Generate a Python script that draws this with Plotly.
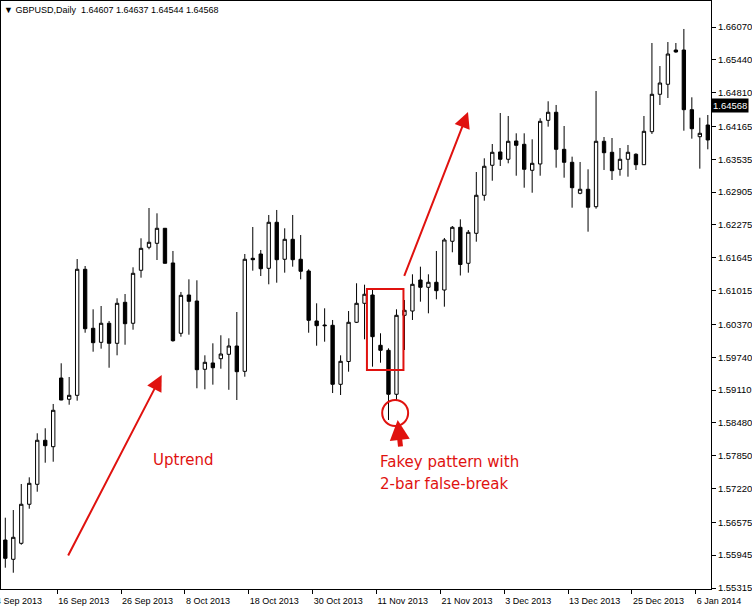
import numpy as np
import plotly.graph_objects as go

# ---------------- data ----------------
first_bar = "2013-09-05"   # daily bars, weekdays only

opens = [1.56235, 1.55865, 1.56172, 1.56920, 1.57303, 1.58147, 1.58024, 1.59341, 1.58933, 1.59009,
         1.61425, 1.60294, 1.60025, 1.60390, 1.60006, 1.60792, 1.60390, 1.61406, 1.61847, 1.61923,
         1.62211, 1.61546, 1.60198, 1.60932, 1.60817, 1.59508, 1.59629, 1.59711, 1.59795, 1.59954,
         1.59469, 1.61636, 1.61718, 1.61444, 1.62326, 1.61617, 1.62000, 1.61617, 1.61392, 1.60434,
         1.60357, 1.60351, 1.59220, 1.59657, 1.60409, 1.60773, 1.60932, 1.59968, 1.59872, 1.59029,
         1.60543, 1.60625, 1.61220, 1.61080, 1.61176, 1.61028, 1.61962, 1.62230, 1.61540, 1.62115,
         1.62844, 1.63419, 1.63674, 1.63534, 1.63885, 1.63821, 1.63323, 1.63444, 1.64281, 1.64435,
         1.63725, 1.63476, 1.62882, 1.62959, 1.62625, 1.63879, 1.63668, 1.63342, 1.63534, 1.63630,
         1.63430, 1.64063, 1.64780, 1.64972, 1.65629, 1.65629, 1.64485, 1.63967, 1.64191]
highs = [1.56663, 1.56810, 1.57309, 1.57437, 1.58281, 1.58377, 1.58843, 1.59623, 1.59360, 1.61622,
         1.61488, 1.60658, 1.60721, 1.60434, 1.60869, 1.60951, 1.61463, 1.62019, 1.62600, 1.62498,
         1.62215, 1.61776, 1.60990, 1.61233, 1.61214, 1.59776, 1.60006, 1.60160, 1.60102, 1.60606,
         1.61718, 1.62236, 1.61795, 1.62466, 1.62562, 1.62211, 1.62466, 1.62082, 1.61425, 1.60773,
         1.60677, 1.60453, 1.59776, 1.60625, 1.61157, 1.61130, 1.61028, 1.60198, 1.59910, 1.60658,
         1.60836, 1.61329, 1.61475, 1.61329, 1.61776, 1.62025, 1.62255, 1.62383, 1.62178, 1.63290,
         1.63553, 1.63827, 1.64421, 1.64364, 1.64032, 1.64032, 1.63917, 1.64320, 1.64646, 1.64575,
         1.64172, 1.63584, 1.63482, 1.63342, 1.64843, 1.63961, 1.63942, 1.63750, 1.63808, 1.63649,
         1.64364, 1.65763, 1.65322, 1.65782, 1.65763, 1.66032, 1.64722, 1.64331, 1.64383]
lows = [1.55704, 1.55608, 1.56145, 1.56835, 1.57161, 1.57717, 1.57736, 1.58915, 1.58829, 1.58906,
        1.60209, 1.59845, 1.59903, 1.59538, 1.59776, 1.59979, 1.60267, 1.61264, 1.61808, 1.61603,
        1.61536, 1.60037, 1.60133, 1.60171, 1.59144, 1.59124, 1.59213, 1.59519, 1.59115, 1.58919,
        1.59366, 1.61398, 1.61296, 1.61137, 1.61168, 1.61360, 1.61475, 1.61233, 1.60209, 1.59960,
        1.60037, 1.59053, 1.59015, 1.59462, 1.60395, 1.60083, 1.59558, 1.59634, 1.58536, 1.58919,
        1.59878, 1.60453, 1.60804, 1.60581, 1.60850, 1.60708, 1.61751, 1.61306, 1.61360, 1.61954,
        1.62740, 1.63123, 1.63405, 1.63457, 1.63219, 1.62989, 1.62893, 1.63219, 1.64159, 1.63373,
        1.63181, 1.62606, 1.62863, 1.62146, 1.62587, 1.63329, 1.63137, 1.63219, 1.63200, 1.63329,
        1.63425, 1.64019, 1.64575, 1.64709, 1.65577, 1.64082, 1.63929, 1.63354, 1.63725]
closes = [1.55884, 1.56287, 1.56920, 1.57322, 1.58147, 1.58043, 1.58722, 1.58919, 1.59009, 1.61425,
          1.60286, 1.60018, 1.60390, 1.60006, 1.60773, 1.60382, 1.61348, 1.61827, 1.61943, 1.62211,
          1.61540, 1.60056, 1.60926, 1.60811, 1.59500, 1.59642, 1.59538, 1.59801, 1.59954, 1.59462,
          1.61617, 1.61609, 1.61436, 1.62326, 1.61609, 1.62000, 1.61609, 1.61387, 1.60447, 1.60344,
          1.60344, 1.59220, 1.59661, 1.60409, 1.60773, 1.60946, 1.60133, 1.59872, 1.59029, 1.60543,
          1.60639, 1.61137, 1.61080, 1.61176, 1.61015, 1.61987, 1.62230, 1.61517, 1.62134, 1.62844,
          1.63400, 1.63668, 1.63534, 1.63879, 1.63802, 1.63342, 1.63457, 1.64262, 1.64435, 1.63725,
          1.63476, 1.62989, 1.62959, 1.62614, 1.63879, 1.63660, 1.63315, 1.63534, 1.63668, 1.63430,
          1.64070, 1.64780, 1.64996, 1.65552, 1.65591, 1.64485, 1.64120, 1.64032, 1.63904]

date_label_days = ["2013-09-04", "2013-09-16", "2013-09-26", "2013-10-08", "2013-10-18", "2013-10-30",
                   "2013-11-11", "2013-11-21", "2013-12-03", "2013-12-13", "2013-12-25", "2014-01-06"]
date_label_text = ["4 Sep 2013", "16 Sep 2013", "26 Sep 2013", "8 Oct 2013", "18 Oct 2013", "30 Oct 2013",
                   "11 Nov 2013", "21 Nov 2013", "3 Dec 2013", "13 Dec 2013", "25 Dec 2013", "6 Jan 2014"]

price_ticks = [1.66070, 1.65440, 1.64810, 1.64165, 1.63535, 1.62905, 1.62275, 1.61645, 1.61015,
               1.60370, 1.59740, 1.59110, 1.58480, 1.57850, 1.57220, 1.56575, 1.55945, 1.55315]
last_price = 1.64568
header = "GBPUSD,Daily\u00a0\u00a01.64607 1.64637 1.64544 1.64568"

# ---------------- figure ----------------
n = len(opens)
bar_index = list(range(n))
label_index = [int(np.busday_count(first_bar, d)) for d in date_label_days]

X_RANGE = [-0.54, 88.4]
RED = "#e0120f"
fig = go.Figure()
fig.add_trace(go.Candlestick(
    x=bar_index, open=opens, high=highs, low=lows, close=closes,
    increasing=dict(fillcolor="white", line=dict(color="black", width=1)),
    decreasing=dict(fillcolor="black", line=dict(color="black", width=1)),
    whiskerwidth=0, showlegend=False, hoverinfo="skip",
))

tickvals = [i - 0.5 for i in label_index if i >= 0]
ticktext = [t for i, t in zip(label_index, date_label_text) if i >= 0]

axis_font = dict(family="Liberation Sans, Arial, sans-serif", size=9.5, color="black")

fig.update_layout(
    width=752, height=609,
    margin=dict(l=0, r=40, t=1, b=20),
    paper_bgcolor="white", plot_bgcolor="white",
    boxgap=0.4,
    xaxis=dict(
        range=X_RANGE, showgrid=False, zeroline=False, rangeslider=dict(visible=False),
        tickvals=tickvals, ticktext=ticktext, ticks="outside", ticklen=4, tickcolor="black",
        ticklabelposition="outside right", ticklabelstandoff=3, tickfont=dict(axis_font, size=9),
        showline=True, linecolor="black", linewidth=1, mirror=True,
    ),
    yaxis=dict(
        range=[1.552959, 1.665684], side="right", showgrid=False, zeroline=False,
        tickvals=price_ticks, ticktext=[f"{v:.5f}" for v in price_ticks],
        ticks="outside", ticklen=4, tickcolor="black", tickfont=axis_font,
        showline=True, linecolor="black", linewidth=1, mirror=True,
    ),
)

ann = []
# header
ann.append(dict(xref="paper", yref="paper", x=0, y=1, xanchor="left", yanchor="top",
                xshift=1, yshift=-2, showarrow=False, text="\u25bc " + header,
                font=dict(axis_font, size=9)))
# truncated first date label (its bar lies just left of the visible range)
first_i = label_index[0]
first_paper_x = (first_i - 0.5 - X_RANGE[0]) / (X_RANGE[1] - X_RANGE[0])
ann.append(dict(xref="paper", yref="paper", x=first_paper_x, y=0, xanchor="left", yanchor="top",
                xshift=1, yshift=-5, showarrow=False, text=date_label_text[0],
                font=dict(axis_font, size=9)))
# current price box
ann.append(dict(xref="paper", yref="y", x=1, y=last_price, xanchor="left", yanchor="middle",
                xshift=0, showarrow=False, text=f"{last_price:.5f}", bgcolor="black",
                font=dict(axis_font, color="white"), borderpad=1))
# trend arrows
ann.append(dict(xref="x", yref="y", axref="x", ayref="y", x=19.59, y=1.59399, ax=7.775, ay=1.55909,
                text="", showarrow=True, arrowhead=2, arrowsize=1.6, arrowwidth=2, arrowcolor=RED,
                standoff=0))
ann.append(dict(xref="x", yref="y", axref="x", ayref="y", x=57.96, y=1.64440, ax=49.9, ay=1.61268,
                text="", showarrow=True, arrowhead=2, arrowsize=1.6, arrowwidth=2, arrowcolor=RED,
                standoff=0))
ann.append(dict(xref="x", yref="y", axref="x", ayref="y", x=49.15, y=1.58536, ax=49.525, ay=1.57999,
                text="", showarrow=True, arrowhead=2, arrowsize=0.8, arrowwidth=5, arrowcolor=RED,
                standoff=0))
text_font = dict(family="DejaVu Sans, sans-serif", size=15, color=RED)
ann.append(dict(xref="x", yref="y", x=18.3, y=1.57769, xanchor="left", yanchor="middle",
                showarrow=False, text="Uptrend", font=text_font))
ann.append(dict(xref="x", yref="y", x=46.7, y=1.57731, xanchor="left", yanchor="middle",
                showarrow=False, text="Fakey pattern with", font=text_font))
ann.append(dict(xref="x", yref="y", x=46.7, y=1.57309, xanchor="left", yanchor="middle",
                showarrow=False, text="2-bar false-break", font=text_font))
fig.update_layout(annotations=ann)

fig.add_shape(type="rect", xref="x", yref="y", x0=45.3, x1=49.875, y0=1.59494, y1=1.61047,
              line=dict(color=RED, width=2))
fig.add_shape(type="circle", xref="x", yref="y", x0=47.21, x1=50.46, y0=1.58421, y1=1.58919,
              line=dict(color=RED, width=2))

fig.write_html("out.html", config={"displayModeBar": False},
               post_script="document.body.style.margin='0';document.body.style.overflow='hidden';")
